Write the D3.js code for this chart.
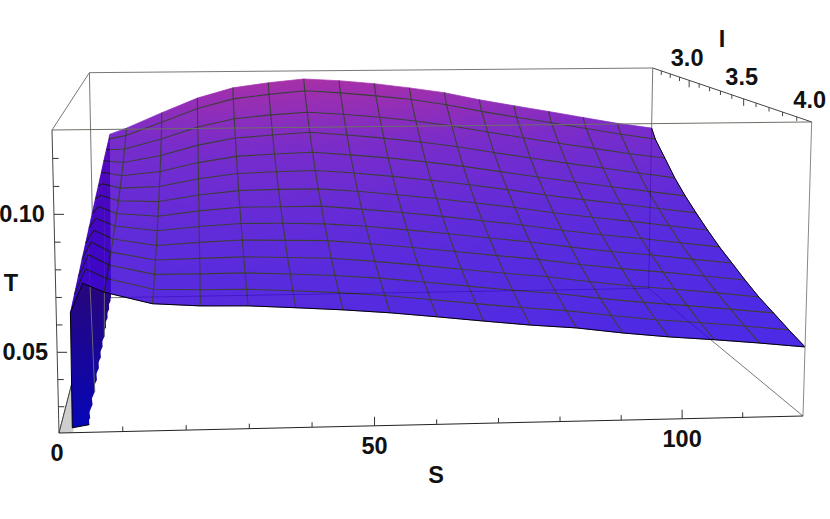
<!DOCTYPE html>
<html>
<head>
<meta charset="utf-8">
<script src="https://cdn.jsdelivr.net/npm/d3@7"></script>
<style>
  body { margin: 0; background: #fff; }
  text { font-family: "Liberation Sans", Arial, sans-serif; font-weight: bold; font-size: 23.5px; fill: #111; }
</style>
</head>
<body>
<div id="chart"></div>
<script>
// Mesh positions. Rows run from the front of the box (I = 4) to the back (I = 2.6)
const S_VALUES = [4.2, 7.5, 15, 22.5, 30, 37.5, 45, 52.5, 60, 67.5, 75, 82.5, 90, 97.5, 105, 112.5, 120];
const I_VALUES = [4, 3.887, 3.774, 3.661, 3.548, 3.435, 3.323, 3.21, 3.097, 2.984, 2.871, 2.758, 2.645, 2.6];
const T_VALUES = [
  [.0750, .0716, .0671, .0660, .0657, .0647, .0636, .0622, .0604, .0585, .0567, .0553, .0531, .0513, .0499, .0483, .0465],
  [.0765, .0728, .0685, .0680, .0679, .0670, .0660, .0646, .0628, .0609, .0591, .0576, .0554, .0535, .0520, .0504, .0486],
  [.0783, .0742, .0703, .0702, .0703, .0696, .0687, .0674, .0656, .0637, .0618, .0602, .0580, .0561, .0545, .0528, .0510],
  [.0797, .0756, .0722, .0726, .0729, .0724, .0718, .0703, .0685, .0666, .0647, .0630, .0607, .0587, .0571, .0553, .0533],
  [.0810, .0774, .0745, .0755, .0762, .0758, .0754, .0739, .0721, .0702, .0682, .0664, .0640, .0620, .0603, .0584, .0564],
  [.0827, .0794, .0772, .0787, .0797, .0795, .0790, .0778, .0760, .0741, .0721, .0701, .0677, .0656, .0638, .0618, .0599],
  [.0845, .0815, .0801, .0821, .0834, .0834, .0834, .0819, .0802, .0783, .0762, .0741, .0716, .0694, .0675, .0654, .0633],
  [.0864, .0839, .0833, .0859, .0876, .0879, .0879, .0866, .0849, .0830, .0808, .0786, .0760, .0738, .0717, .0695, .0674],
  [.0885, .0865, .0870, .0902, .0923, .0929, .0932, .0919, .0902, .0882, .0860, .0836, .0809, .0786, .0764, .0741, .0719],
  [.0908, .0893, .0910, .0948, .0974, .0983, .0989, .0975, .0959, .0939, .0916, .0890, .0863, .0838, .0814, .0790, .0767],
  [.0935, .0927, .0957, .1003, .1034, .1046, .1057, .1042, .1026, .1006, .0982, .0953, .0925, .0899, .0874, .0848, .0823],
  [.0962, .0965, .1010, .1065, .1102, .1118, .1129, .1118, .1102, .1082, .1057, .1026, .0997, .0969, .0942, .0914, .0892],
  [.0990, .1006, .1067, .1132, .1176, .1196, .1212, .1200, .1184, .1165, .1138, .1104, .1074, .1045, .1015, .0985, .0960],
  [.1005, .1032, .1105, .1174, .1222, .1245, .1262, .1252, .1236, .1214, .1189, .1153, .1122, .1092, .1061, .1030, .1005]
];

// Steep left side of the surface: its upper rim, and where it runs into the floor
const RIM_S = [2.2, 2.3, 2.45, 2.6, 2.75, 2.9, 3.05, 3.2, 3.35, 3.5, 3.65, 3.8, 3.95, 4.0];
const RIM_T = [.0644, .0669, .0699, .0730, .0759, .0788, .0817, .0848, .0876, .0905, .0936, .0964, .0990, .1003];
const FLOOR_S = [4.5, 4.43, 4.36, 4.29, 4.22, 4.15, 4.08, 4.0, 3.93, 3.86, 3.79, 3.72, 3.65, 3.6];

const S_TICKS = d3.range(0, 121, 10);
const S_LABELS = [0, 50, 100];
const T_TICKS = [.03, .04, .05, .06, .07, .08, .09, .10, .11, .12];
const T_LABELS = [.05, .10];
const I_TICKS = [2.7, 2.8, 2.9, 3.0, 3.1, 3.2, 3.3, 3.4, 3.5, 3.6, 3.7, 3.8, 3.9];
const I_LABELS = [3.0, 3.5, 4.0];

const width = 830, height = 519;
const S_MIN = 0, S_MAX = 120, I_FRONT = 4, I_BACK = 2.6, T_MIN = .0203, T_MAX = .1301;

const svg = d3.select("#chart").append("svg").attr("width", width).attr("height", height);
const defs = svg.append("defs");

const sScale = d3.scaleLinear().domain([S_MIN, S_MAX]).range([0, 1]);
const tScale = d3.scaleLinear().domain([T_MIN, T_MAX]).range([0, 1]);
const iScale = d3.scaleLinear().domain([I_FRONT, I_BACK]).range([0, 1]);

// Perspective camera, fitted to the corners of the box on the picture
const origin = [59, 433], edgeS = [744, -17], edgeT = [-7, -303], edgeI = [35, -135];
const wS = 1.031, wT = .979, wI = 1.35;
function pt(s, i, t) {
    const u = sScale(s), v = tScale(t), w = iScale(i);
    const d = 1 + u * (wS - 1) + v * (wT - 1) + w * (wI - 1);
    return [
        origin[0] + (u * wS * edgeS[0] + v * wT * edgeT[0] + w * wI * edgeI[0]) / d,
        origin[1] + (u * wS * edgeS[1] + v * wT * edgeT[1] + w * wI * edgeI[1]) / d
    ];
}

// Colours are given for a layer at 0.85 opacity over white
const color = d3.scaleLinear()
    .domain([.0465, .07, .10, .126])
    .range(["#2c06e2", "#3d07d8", "#6208c2", "#990c98"])
    .clamp(true);

const line = d3.line();
const poly = pts => line(pts) + "Z";

// Vertex of the surface, column 0 is the rim
function vertex(row, col) {
    if (col === 0) return { s: RIM_S[row], i: I_VALUES[row], t: RIM_T[row] };
    return { s: S_VALUES[col - 1], i: I_VALUES[row], t: T_VALUES[row][col - 1] };
}
const xy = d => pt(d.s, d.i, d.t);
const rowIdx = d3.range(I_VALUES.length), colIdx = d3.range(S_VALUES.length + 1);

function drawLine(g, pts, stroke, w, op) {
    g.append("path").attr("d", line(pts)).attr("fill", "none")
        .attr("stroke", stroke).attr("stroke-width", w).attr("stroke-opacity", op === undefined ? 1 : op)
        .attr("stroke-linejoin", "round");
}

// Box edges behind the surface
const backBox = svg.append("g");
const c = (s, i, t) => pt(s, i, t);
[
    [c(S_MIN, I_BACK, T_MIN), c(S_MAX, I_BACK, T_MIN)],
    [c(S_MIN, I_BACK, T_MIN), c(S_MIN, I_BACK, T_MAX)],
    [c(S_MAX, I_BACK, T_MIN), c(S_MAX, I_BACK, T_MAX)],
    [c(S_MIN, I_BACK, T_MAX), c(S_MAX, I_BACK, T_MAX)],
    [c(S_MIN, I_FRONT, T_MAX), c(S_MIN, I_BACK, T_MAX)],
    [c(S_MAX, I_FRONT, T_MIN), c(S_MAX, I_BACK, T_MIN)],
    [c(S_MIN, I_FRONT, T_MIN), c(S_MIN, I_BACK, T_MIN)]
].forEach(p => drawLine(backBox, p, "#777", 1));

// Grey sliver of floor at the corner
svg.append("path")
    .attr("d", poly([c(S_MIN, I_FRONT, T_MIN), c(S_MIN, 3.57, T_MIN), c(2.2, 3.57, T_MIN + .012), c(2.2, I_FRONT, T_MIN)]))
    .attr("fill", "#cfcfcf");
drawLine(svg, [c(S_MIN, I_FRONT, T_MIN), c(S_MIN, 3.57, T_MIN)], "#444", 1);

// Dark underside of the steep part
const wallFill = defs.append("linearGradient").attr("id", "wallFill")
    .attr("gradientUnits", "userSpaceOnUse").attr("x1", 0).attr("y1", 285).attr("x2", 0).attr("y2", 430);
wallFill.append("stop").attr("offset", 0).attr("stop-color", "#28067c");
wallFill.append("stop").attr("offset", 1).attr("stop-color", "#0606b8");

const wall = svg.append("g");
const floorI = j => j === 0 ? 3.94 : I_VALUES[j];
rowIdx.slice(0, -1).reverse().forEach(j => {
    wall.append("path")
        .attr("d", poly([
            pt(RIM_S[j], I_VALUES[j], RIM_T[j]),
            pt(RIM_S[j + 1], I_VALUES[j + 1], RIM_T[j + 1]),
            pt(FLOOR_S[j + 1], floorI(j + 1), T_MIN),
            pt(FLOOR_S[j] - .55, floorI(j), T_MIN)
        ]))
        .attr("fill", "url(#wallFill)");
});
// End of the wall at I = 4
wall.append("path")
    .attr("d", poly([
        pt(RIM_S[0], I_FRONT, RIM_T[0]),
        pt(2.1, I_FRONT, .0221),
        pt(FLOOR_S[0], floorI(0), T_MIN),
        pt(S_VALUES[0], I_FRONT, T_VALUES[0][0])
    ]))
    .attr("fill", "url(#wallFill)");
[3, 8].forEach(j => drawLine(wall, [pt(RIM_S[j] + 1.1, I_VALUES[j], .078), pt(FLOOR_S[j], I_VALUES[j], T_MIN)], "#667", 1));
drawLine(wall, [pt(RIM_S[0], I_FRONT, RIM_T[0]), pt(2.1, I_FRONT, .0221), pt(FLOOR_S[0], floorI(0), T_MIN)], "#000", 1);

// Surface: one gradient per cell, running from its back edge to its front edge
const surface = svg.append("g").attr("opacity", .85);
rowIdx.slice(0, -1).reverse().forEach(j => {
    colIdx.slice(0, -1).forEach(k => {
        const a = vertex(j, k), b = vertex(j, k + 1), d = vertex(j + 1, k + 1), e = vertex(j + 1, k);
        const pa = xy(a), pb = xy(b), pd = xy(d), pe = xy(e);
        const id = "cell-" + j + "-" + k;
        const grad = defs.append("linearGradient").attr("id", id)
            .attr("gradientUnits", "userSpaceOnUse")
            .attr("x1", (pe[0] + pd[0]) / 2).attr("y1", (pe[1] + pd[1]) / 2)
            .attr("x2", (pa[0] + pb[0]) / 2).attr("y2", (pa[1] + pb[1]) / 2);
        grad.append("stop").attr("offset", 0).attr("stop-color", color((e.t + d.t) / 2));
        grad.append("stop").attr("offset", 1).attr("stop-color", color((a.t + b.t) / 2));
        surface.append("path").attr("d", poly([pa, pb, pd, pe]))
            .attr("fill", "url(#" + id + ")")
            .attr("stroke", "url(#" + id + ")").attr("stroke-width", .7);
    });
});

// Mesh lines
rowIdx.slice(1, -1).forEach(j => {
    drawLine(surface, colIdx.map(k => xy(vertex(j, k))), "#1c1c1c", 1.1);
});
colIdx.slice(2, -1).forEach(k => {
    drawLine(surface, rowIdx.map(j => xy(vertex(j, k))), "#1c1c1c", 1.1);
});

// Black boundary along the front and the right side
drawLine(svg, colIdx.map(k => xy(vertex(0, k))), "#000", 1);
drawLine(svg, rowIdx.map(j => xy(vertex(j, colIdx.length - 1))), "#000", 1);

// Box edges in front of the surface
const frontBox = svg.append("g");
drawLine(frontBox, [c(S_MIN, I_FRONT, T_MAX), c(S_MAX, I_FRONT, T_MAX)], "#6e6e66", 1);
drawLine(frontBox, [c(S_MAX, I_FRONT, T_MIN), c(S_MAX, I_FRONT, T_MAX)], "#888", 1);
drawLine(frontBox, [c(S_MIN, I_FRONT, T_MIN), c(S_MIN, I_FRONT, T_MAX)], "#444", 1);
drawLine(frontBox, [c(S_MIN, I_FRONT, T_MIN), c(S_MAX, I_FRONT, T_MIN)], "#222", 1);
drawLine(frontBox, [c(S_MAX, I_BACK, T_MAX), c(S_MAX, I_FRONT, T_MAX)], "#444", 1);

// Ticks, major ones are longer
const axis = svg.append("g");
S_TICKS.slice(1, -1).forEach(s => {
    const p = pt(s, I_FRONT, T_MIN), len = S_LABELS.includes(s) ? 9 : 5;
    drawLine(axis, [p, [p[0], p[1] - len]], "#333", 1);
});
T_TICKS.forEach(t => {
    const p = pt(S_MIN, I_FRONT, t), len = T_LABELS.includes(t) ? 10 : 6;
    drawLine(axis, [p, [p[0] + len, p[1]]], "#333", 1);
});
I_TICKS.forEach(i => {
    const p = pt(S_MAX, i, T_MAX), len = I_LABELS.includes(i) ? 7 : 4;
    drawLine(axis, [p, [p[0], p[1] + len]], "#444", 1);
});

// Labels
S_LABELS.forEach(s => {
    const p = pt(s, I_FRONT, T_MIN);
    axis.append("text").attr("x", p[0] - (s === 0 ? 2 : 0)).attr("y", p[1] + 28).attr("text-anchor", "middle").text(s);
});
T_LABELS.forEach(t => {
    const p = pt(S_MIN, I_FRONT, t);
    axis.append("text").attr("x", p[0] - 9).attr("y", p[1] + 8).attr("text-anchor", "end").text(d3.format(".2f")(t));
});
I_LABELS.forEach(i => {
    const p = pt(S_MAX, i, T_MAX);
    axis.append("text").attr("x", p[0] - 2).attr("y", p[1] - 14).attr("text-anchor", "middle").text(d3.format(".1f")(i));
});
axis.append("text").attr("x", 436).attr("y", 483).attr("text-anchor", "middle").text("S");
axis.append("text").attr("x", 11).attr("y", 291).attr("text-anchor", "middle").text("T");
axis.append("text").attr("x", 722).attr("y", 47).attr("text-anchor", "middle").text("I");
</script>
</body>
</html>
